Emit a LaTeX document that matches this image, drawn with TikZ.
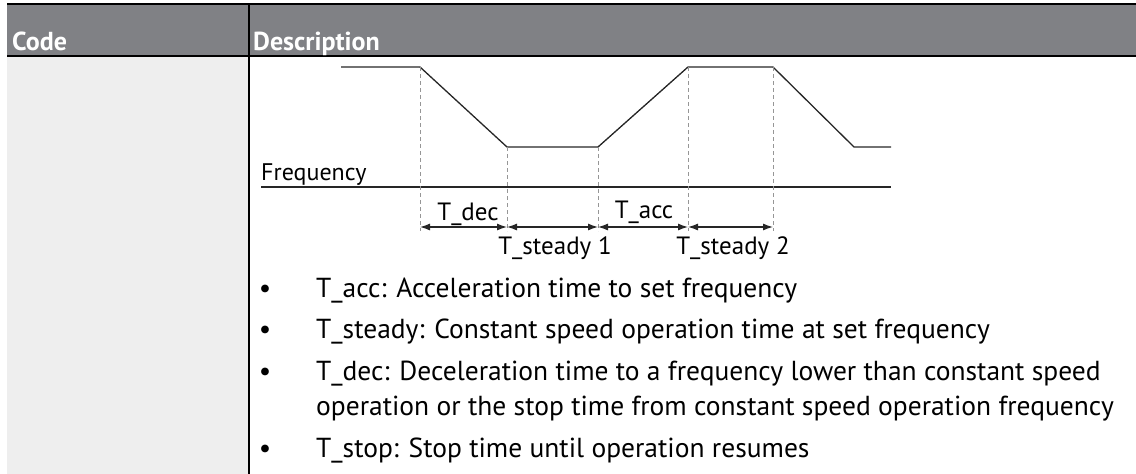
\documentclass[tikz,border=0pt]{standalone}
\usepackage{fontspec}
\setmainfont{PT Sans}
\usepackage{xcolor}
\usetikzlibrary{arrows.meta}
\definecolor{headgray}{RGB}{128,129,133}
\definecolor{codegray}{RGB}{238,238,238}
\definecolor{guidegray}{RGB}{150,150,150}

\begin{document}
\begin{tikzpicture}[
  x=1pt, y=-1pt,
  headtext/.style={font=\fontsize{26}{30}\selectfont\bfseries, text=white, inner sep=0pt, anchor=base west},
  bodytext/.style={font=\fontsize{27.5}{35}\selectfont, inner sep=0pt, anchor=base west},
  dot/.style={font=\fontsize{27.5}{35}\selectfont, inner sep=0pt, anchor=base},
  lbl/.style={font=\fontsize{25}{28}\selectfont, inner sep=0pt, anchor=base},
  tablerule/.style={line width=2pt, draw=black},
  profile/.style={line width=1.3pt, draw=black!85},
  freqaxis/.style={line width=2pt, draw=black!85},
  guideline/.style={dash pattern=on 4pt off 3pt, line width=0.9pt, draw=guidegray},
  timespan/.style={{Latex[length=10pt,width=7pt]}-{Latex[length=10pt,width=7pt]}, line width=1.2pt, draw=black!85}
]
\useasboundingbox (0,0) rectangle (1136,474);

% table frame
\fill[headgray] (7,4) rectangle (1136,56);
\fill[codegray] (7,56) rectangle (248,474);
\draw[tablerule] (7,4) -- (1136,4);
\draw[tablerule] (7,56) -- (1136,56);
\draw[tablerule] (249,4) -- (249,474);
\node[headtext] (code) at (12,50) {Code};
\node[headtext] (desc) at (253,50) {Description};

% frequency profile
\coordinate (p0) at (341,67);
\coordinate (p1) at (420,67);
\coordinate (p2) at (507,147);
\coordinate (p3) at (598,147);
\coordinate (p4) at (688,67);
\coordinate (p5) at (773,67);
\coordinate (p6) at (854,147);
\coordinate (p7) at (891,147);
\draw[profile] (p0) -- (p1) -- (p2) -- (p3) -- (p4) -- (p5) -- (p6) -- (p7);

\coordinate (ax0) at (261,187);
\coordinate (ax1) at (891,187);
\draw[freqaxis] (ax0) -- (ax1);
\node[anchor=base west, inner sep=0pt, font=\fontsize{24}{28}\selectfont] (freq) at (261,180) {Frequency};

% guides and time spans
\foreach \i/\x in {1/420,2/507,3/598,4/688,5/773} {
  \coordinate (t\i) at (\x,227);
  \coordinate (g\i) at (\x,231);
}
\draw[guideline] (p1) -- (g1);
\draw[guideline] (p2) -- (g2);
\draw[guideline] (p3) -- (g3);
\draw[guideline] (p4) -- (g4);
\draw[guideline] (p5) -- (g5);

\draw[timespan] (t1) -- (t2);
\draw[timespan] (t2) -- (t3);
\draw[timespan] (t3) -- (t4);
\draw[timespan] (t4) -- (t5);

\node[lbl] (tdec) at (468,220.5) {T\_dec};
\node[lbl] (tsteady1) at (555,254) {T\_steady 1};
\node[lbl] (tacc) at (644,218.5) {T\_acc};
\node[lbl] (tsteady2) at (733,254) {T\_steady 2};

% legend
\node[dot] (b1) at (265,297) {•};
\node[dot] (b2) at (265,338) {•};
\node[dot] (b3) at (265,380) {•};
\node[dot] (b4) at (265,457) {•};
\node[bodytext] (accline) at (316,297) {T\_acc: Acceleration time to set frequency};
\node[bodytext] (steadyline) at (316,338) {T\_steady: Constant speed operation time at set frequency};
\node[bodytext] (decline) at (316,380) {T\_dec: Deceleration time to a frequency lower than constant speed};
\node[bodytext] (decline2) at (316,415) {operation or the stop time from constant speed operation frequency};
\node[bodytext] (stopline) at (316,457) {T\_stop: Stop time until operation resumes};

\end{tikzpicture}
\end{document}
